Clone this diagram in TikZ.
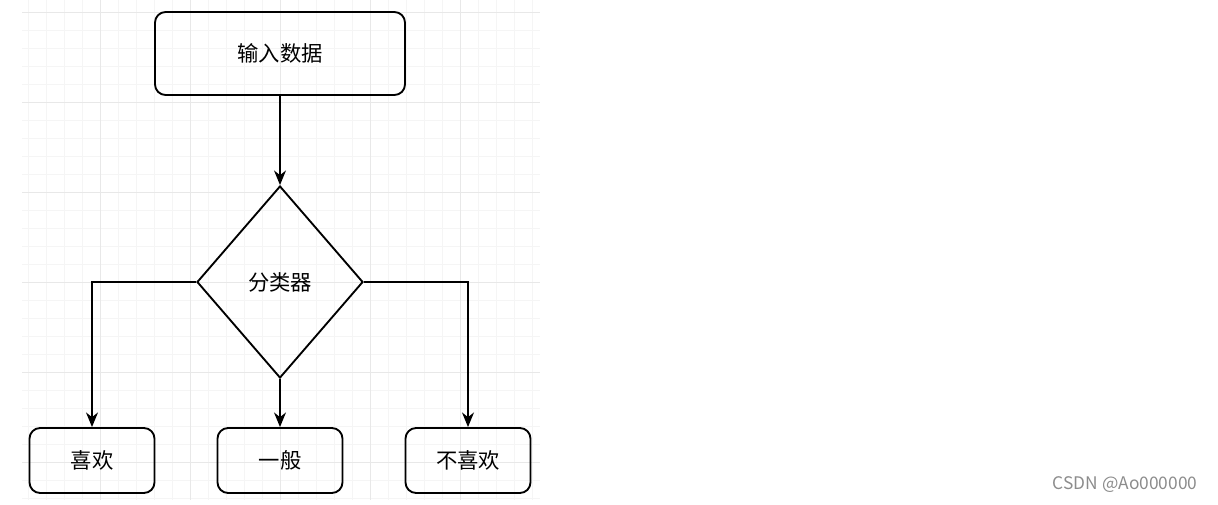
\documentclass[tikz,border=0pt]{standalone}
\usepackage{fontspec}
\setmainfont{Noto Sans CJK SC}
\usetikzlibrary{shapes.geometric,arrows.meta}
\begin{document}
\begin{tikzpicture}[x=0.75pt,y=-0.75pt,
  box/.style={draw,line width=1.4pt,rounded corners=8pt,inner sep=0pt,font=\fontsize{16}{18}\selectfont},
  dia/.style={draw,line width=1.4pt,diamond,inner sep=0pt,minimum width=166*0.75pt,minimum height=192*0.75pt,font=\fontsize{16}{18}\selectfont},
  arr/.style={line width=1.2pt,-{Stealth[length=11pt,width=9pt]}}]
\useasboundingbox (0,0) rectangle (1218,504);
\foreach \y in {12,30,...,500} \draw[black!4,line width=0.5pt] (22,\y) -- (540,\y);
\foreach \x in {28,46,...,540} \draw[black!4,line width=0.5pt] (\x,0) -- (\x,500);
\foreach \y in {12,102,...,500} \draw[black!9,line width=0.6pt] (22,\y) -- (540,\y);
\foreach \x in {100,190,...,540} \draw[black!9,line width=0.6pt] (\x,0) -- (\x,500);
\node[box,minimum width=250*0.75pt,minimum height=83*0.75pt] (in) at (280,53.5) {输入数据};
\node[dia] (c) at (280,282) {分类器};
\node[box,minimum width=125*0.75pt,minimum height=65*0.75pt] (a) at (92,460.5) {喜欢};
\node[box,minimum width=125*0.75pt,minimum height=65*0.75pt] (b) at (280,460.5) {一般};
\node[box,minimum width=125*0.75pt,minimum height=65*0.75pt] (d) at (468,460.5) {不喜欢};
\draw[arr] (in) -- (c);
\draw[arr] (c.west) -| (a.north);
\draw[arr] (c) -- (b);
\draw[arr] (c.east) -| (d.north);
\node[text=black!45,font=\fontsize{13}{15}\selectfont,anchor=east] (w) at (1202,485) {CSDN @Ao000000};
\end{tikzpicture}
\end{document}
